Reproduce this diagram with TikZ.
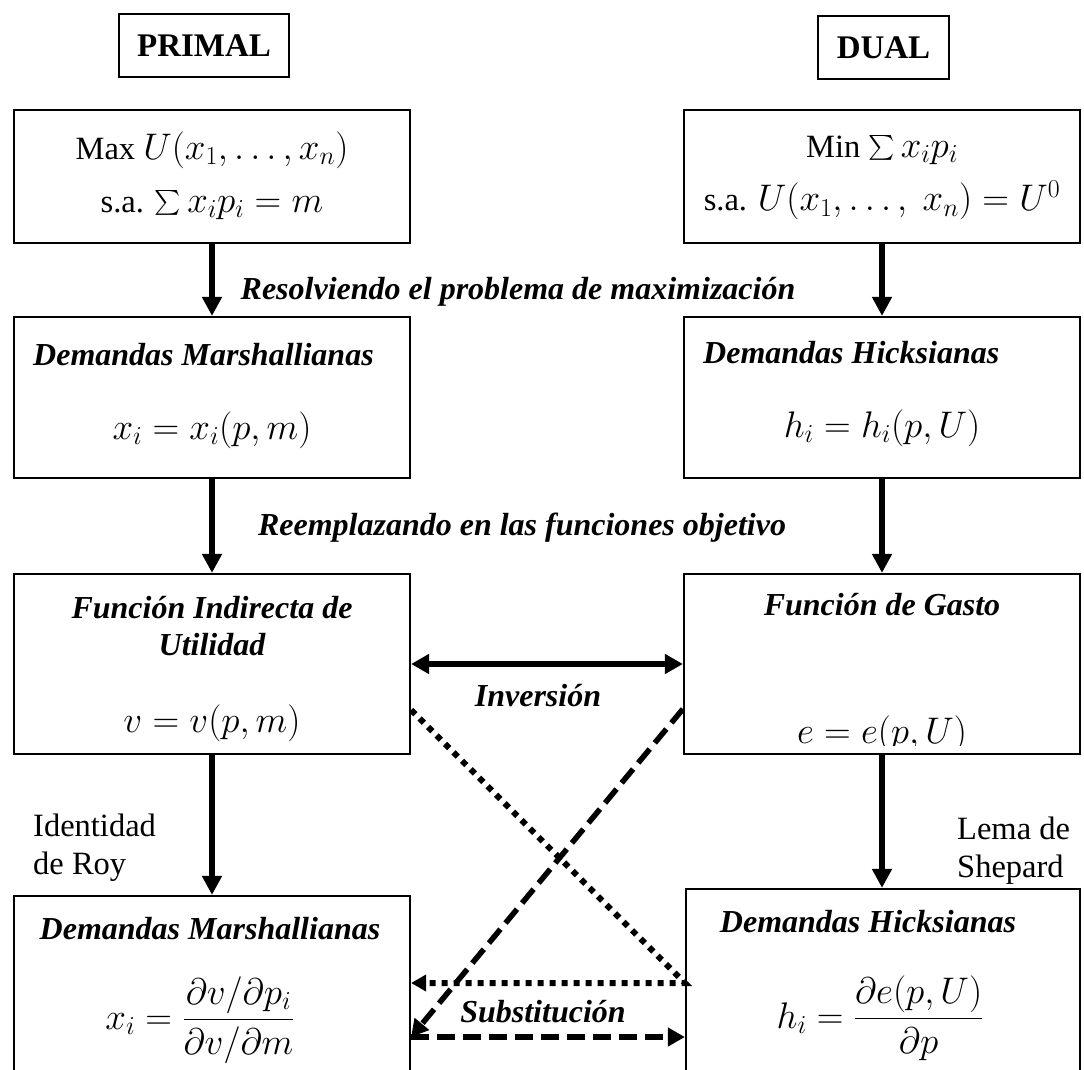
\RequirePackage{fix-cm}
\documentclass[tikz,border=0pt]{standalone}
\usepackage{amsmath}
\usepackage{fontspec}
\setmainfont{Liberation Serif}
\usetikzlibrary{arrows.meta}

% larger size for the formulas
\newcommand{\fm}[1]{{\fontsize{37}{42}\selectfont$#1$}}

\begin{document}
\begin{tikzpicture}[x=1pt,y=-1pt,
  box/.style={draw, line width=2.2pt, rectangle, inner sep=0pt, minimum width=396pt},
  headbox/.style={draw, line width=1.6pt, rectangle, inner sep=0pt,
    font=\fontsize{33}{39}\selectfont\bfseries},
  ttl/.style={font=\fontsize{32}{38}\selectfont\bfseries\itshape, inner sep=0pt},
  txt/.style={font=\fontsize{32.5}{38}\selectfont, inner sep=0pt},
  flow/.style={line width=5.5pt, -{Triangle[length=19pt,width=19pt]}},
  both/.style={line width=5.5pt, {Triangle[length=18pt,width=19pt]}-{Triangle[length=18pt,width=19pt]}},
  dotline/.style={line width=6pt, dash pattern=on 6pt off 6pt, -{Triangle[length=15pt,width=16pt]}},
  dashline/.style={line width=5.5pt, dash pattern=on 18pt off 8pt, -{Triangle[length=17pt,width=18pt]}}]

\useasboundingbox (0,0) rectangle (1084,1070);
\clip (0,0) rectangle (1084,1070);

% column headings
\node[headbox, minimum width=170pt, minimum height=63pt] (primal) at (204,45.5) {PRIMAL};
\node[headbox, minimum width=131pt, minimum height=63pt] (dual) at (883.5,47.5) {DUAL};

% boxes
\node[box, minimum height=133pt] (b1) at (212,176.5) {};
\node[box, minimum height=133pt] (b2) at (882,176.5) {};
\node[box, minimum height=161pt] (b3) at (212,397.5) {};
\node[box, minimum height=161pt] (b4) at (882,397.5) {};
\node[box, minimum height=180pt] (b5) at (212,664) {};
\node[box, minimum height=180pt] (b6) at (882,664) {};
\node[box, minimum height=206pt] (b7) at (212,999) {};
\node[box, minimum height=212pt, minimum width=394pt] (b8) at (883,995) {};

% box contents
\node[txt] (t1a) at (212,150) {Max \fm{U(x_1,\dots,x_n)}};
\node[txt] (t1b) at (212,205) {s.a. \fm{\sum x_i p_i = m}};
\node[txt] (t2a) at (882,150) {Min \fm{\sum x_i p_i}};
\node[txt] (t2b) at (882,200) {s.a. \fm{U(x_1,\dots,\ x_n) = U^0}};

\node[ttl, anchor=west] (t3a) at (33,355) {Demandas Marshallianas};
\node[txt] (t3b) at (212,430) {\fm{x_i = x_i(p,m)}};
\node[ttl, anchor=west] (t4a) at (703,353) {Demandas Hicksianas};
\node[txt] (t4b) at (882,428) {\fm{h_i = h_i(p,U)}};

\node[ttl] (t5a) at (212,608) {Función Indirecta de};
\node[ttl] (t5b) at (212,645) {Utilidad};
\node[txt] (t5c) at (212,723) {\fm{v = v(p,m)}};
\node[ttl] (t6a) at (882,605) {Función de Gasto};
\begin{scope}
  \clip (684,575) rectangle (1079,745);
  \node[txt] (t6b) at (882,734) {\fm{e = e(p,U)}};
\end{scope}

\node[ttl] (t7a) at (210,929) {Demandas Marshallianas};
\node[txt] (t7b) at (200,1020) {\fm{x_i = \dfrac{\partial v/\partial p_i}{\partial v/\partial m}}};
\node[ttl] (t8a) at (868,922) {Demandas Hicksianas};
\node[txt] (t8b) at (880,1018) {\fm{h_i = \dfrac{\partial e(p,U)}{\partial p}}};

% vertical steps
\draw[flow] (b1) -- (b3);
\draw[flow] (b2) -- (b4);
\draw[flow] (b3) -- (b5);
\draw[flow] (b4) -- (b6);
\draw[flow] (b5) -- (b7);
\draw[flow] (b6.south) -- (b6.south |- b8.north);

% step labels
\node[ttl] (l1) at (518,292) {Resolviendo el problema de maximización};
\node[ttl] (l2) at (522,528) {Reemplazando en las funciones objetivo};
\node[txt, anchor=west, align=left] (l3) at (33,848) {Identidad\\de Roy};
\node[txt, anchor=west, align=left] (l4) at (957,851) {Lema de\\Shepard};

% cross relations
\draw[both] (b5.east) -- (b6.west);
\node[ttl] (l5) at (538,696) {Inversión};

\draw[dotline] (b5.east |- 0,710) -- (b8.west |- 0,983) -- (b7.east |- 0,983);
\draw[dashline] (b6.west |- 0,709) -- (b7.east |- 0,1037);
\draw[dashline] (b7.east |- 0,1037) -- (b8.west |- 0,1037);
\node[ttl] (l6) at (543,1012) {Substitución};

\end{tikzpicture}
\end{document}
